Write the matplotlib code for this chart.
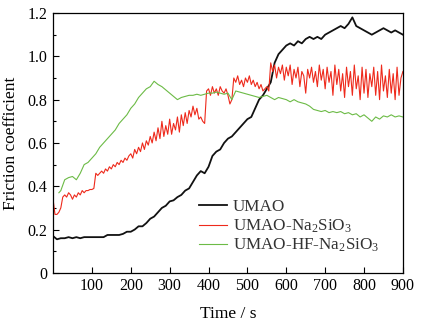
import numpy as np
import matplotlib
matplotlib.use('Agg')
import matplotlib.pyplot as plt
from matplotlib.ticker import MultipleLocator

plt.rcParams['font.family'] = ['Liberation Serif', 'DejaVu Serif']
plt.rcParams['mathtext.fontset'] = 'custom'
plt.rcParams['mathtext.rm'] = 'Liberation Serif'
plt.rcParams['mathtext.it'] = 'Liberation Serif:italic'

labels = ['UMAO', 'UMAO-Na$_2$SiO$_3$', 'UMAO-HF-Na$_2$SiO$_3$']
colors = ['#111111', '#ee2a1c', '#6cbb46']

# sliding time / s
t_umao = np.arange(0, 901, 10)
mu_umao = [
    0.17, 0.155, 0.16, 0.16, 0.165, 0.16, 0.165, 0.16, 0.165, 0.165,
    0.165, 0.165, 0.165, 0.165, 0.175, 0.175, 0.175, 0.175, 0.18, 0.19,
    0.19, 0.20, 0.215, 0.215, 0.23, 0.25, 0.26, 0.28, 0.30, 0.31,
    0.33, 0.335, 0.35, 0.36, 0.38, 0.39, 0.42, 0.45, 0.47, 0.46,
    0.49, 0.54, 0.56, 0.57, 0.60, 0.62, 0.63, 0.65, 0.67, 0.69,
    0.71, 0.72, 0.76, 0.80, 0.82, 0.85, 0.88, 0.97, 1.01, 1.03,
    1.05, 1.06, 1.05, 1.07, 1.06, 1.08, 1.09, 1.08, 1.09, 1.08,
    1.10, 1.11, 1.12, 1.13, 1.14, 1.13, 1.15, 1.18, 1.14, 1.13,
    1.12, 1.11, 1.10, 1.11, 1.12, 1.13, 1.12, 1.11, 1.12, 1.11,
    1.10,
]

t_na = np.arange(0, 901, 5)
mu_na = [
    0.34, 0.27, 0.27, 0.28, 0.30, 0.35, 0.36, 0.35, 0.37, 0.36,
    0.34, 0.36, 0.35, 0.37, 0.36, 0.38, 0.37, 0.38, 0.38, 0.385,
    0.385, 0.39, 0.46, 0.45, 0.46, 0.47, 0.46, 0.48, 0.47, 0.49,
    0.48, 0.50, 0.49, 0.51, 0.50, 0.52, 0.51, 0.53, 0.52, 0.54,
    0.55, 0.53, 0.57, 0.55, 0.58, 0.56, 0.60, 0.57, 0.61, 0.59,
    0.63, 0.60, 0.65, 0.61, 0.67, 0.62, 0.70, 0.63, 0.68, 0.64,
    0.71, 0.64, 0.69, 0.66, 0.72, 0.65, 0.73, 0.68, 0.74, 0.69,
    0.75, 0.72, 0.77, 0.73, 0.76, 0.71, 0.72, 0.70, 0.69, 0.84,
    0.85, 0.82, 0.86, 0.83, 0.85, 0.82, 0.86, 0.84, 0.83, 0.85,
    0.82, 0.78, 0.80, 0.90, 0.88, 0.91, 0.87, 0.89, 0.86, 0.90,
    0.88, 0.91, 0.87, 0.89, 0.86, 0.88, 0.85, 0.87, 0.84, 0.85,
    0.86, 0.84, 0.97, 0.93, 0.96, 0.90, 0.95, 0.92, 0.96, 0.89,
    0.95, 0.91, 0.96, 0.87, 0.94, 0.90, 0.95, 0.86, 0.93, 0.91,
    0.83, 0.94, 0.90, 0.95, 0.88, 0.93, 0.86, 0.96, 0.89, 0.94,
    0.85, 0.95, 0.88, 0.93, 0.82, 0.96, 0.87, 0.94, 0.84, 0.92,
    0.81, 0.95, 0.86, 0.93, 0.82, 0.96, 0.85, 0.91, 0.80, 0.95,
    0.83, 0.94, 0.81, 0.92, 0.86, 0.95, 0.82, 0.93, 0.80, 0.96,
    0.84, 0.91, 0.81, 0.94, 0.83, 0.92, 0.80, 0.95, 0.82, 0.90,
    0.93,
]

t_hf = np.concatenate([[15], np.arange(20, 901, 10)])
mu_hf = [
    0.37, 0.38, 0.43, 0.44, 0.445, 0.43, 0.46, 0.50, 0.51, 0.53,
    0.55, 0.58, 0.60, 0.62, 0.64, 0.66, 0.69, 0.71, 0.73, 0.76,
    0.78, 0.81, 0.83, 0.85, 0.86, 0.885, 0.87, 0.86, 0.845, 0.83,
    0.815, 0.80, 0.81, 0.815, 0.82, 0.82, 0.825, 0.82, 0.825, 0.83,
    0.83, 0.835, 0.83, 0.825, 0.83, 0.80, 0.84, 0.835, 0.83, 0.825,
    0.82, 0.815, 0.81, 0.815, 0.82, 0.81, 0.80, 0.81, 0.805, 0.80,
    0.79, 0.80, 0.79, 0.785, 0.78, 0.77, 0.755, 0.75, 0.745, 0.75,
    0.74, 0.745, 0.74, 0.745, 0.735, 0.74, 0.73, 0.735, 0.72, 0.73,
    0.715, 0.70, 0.72, 0.71, 0.725, 0.72, 0.73, 0.72, 0.725, 0.72,
]

fig = plt.figure(figsize=(4.21, 3.26), dpi=100)
ax = fig.add_axes([0.126, 0.163, 0.831, 0.797])

ax.plot(t_umao, mu_umao, color=colors[0], lw=1.3, label=labels[0])
ax.plot(t_na, mu_na, color=colors[1], lw=0.8, label=labels[1])
ax.plot(t_hf, mu_hf, color=colors[2], lw=0.8, label=labels[2])

ax.set_xlim(0, 900)
ax.set_ylim(0, 1.2)
ax.set_xticks(range(100, 901, 100))
ax.set_yticks([0, 0.2, 0.4, 0.6, 0.8, 1.0, 1.2])
ax.set_yticklabels(['0', '0.2', '0.4', '0.6', '0.8', '1.0', '1.2'])
ax.yaxis.set_minor_locator(MultipleLocator(0.1))
ax.tick_params(which='both', direction='in', labelsize=11.5)
ax.tick_params(which='major', length=4, width=0.8, pad=4)
ax.tick_params(which='minor', length=2.5, width=0.8)
for s in ax.spines.values():
    s.set_linewidth(0.9)

ax.set_xlabel('Time / s', fontsize=12.5, labelpad=8)
ax.set_ylabel('Friction coefficient', fontsize=12.5, labelpad=6)

leg = ax.legend(loc='lower left', bbox_to_anchor=(0.397, 0.045), frameon=False,
                fontsize=12.3, handlelength=1.65, handletextpad=0.35,
                labelspacing=0.12, borderaxespad=0)
for txt in leg.get_texts():
    txt.set_color('#333333')

fig.savefig('out.png', dpi=100)
